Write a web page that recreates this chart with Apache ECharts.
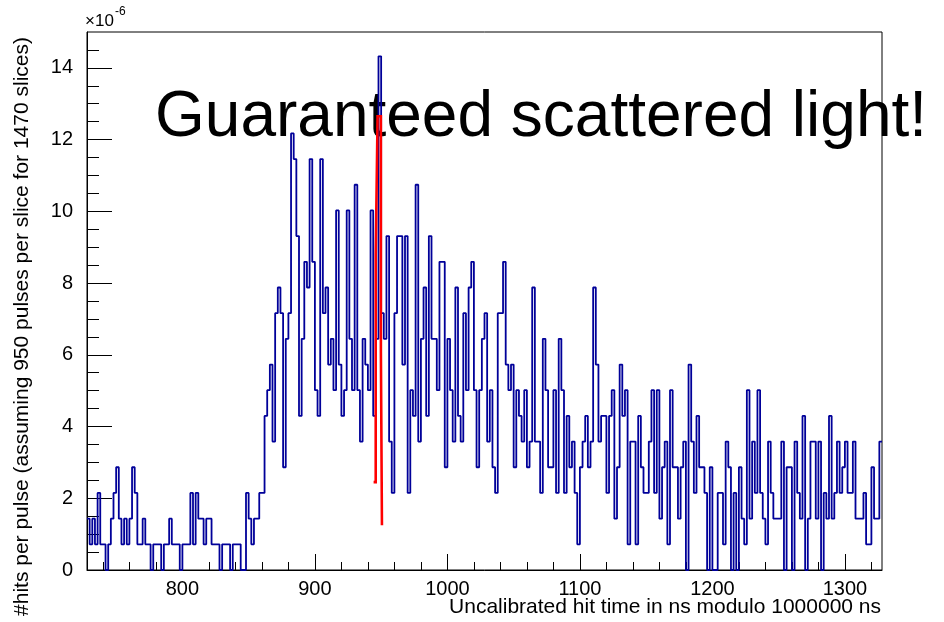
<!DOCTYPE html>
<html lang="en">

<head>
    <meta charset="UTF-8">
    <title>Hit time histogram</title>
    <script src="https://cdn.jsdelivr.net/npm/echarts@6/dist/echarts.min.js"></script>
    <style>
        html,
        body,
        #chart {
            width: 100%;
            height: 100%;
            margin: 0;
            padding: 0;
            background: #fff;
        }
    </style>
</head>

<body>
    <div id="chart"></div>
    <script>
        // histogram: 2 ns bins starting at 728 ns, counts per bin
        var binStart = 728;
        var binWidth = 2;
        // one hit = 1 / (950 pulses * 1470 slices), in units of 1e-6
        var hitUnit = 1e6 / (950 * 1470);

        var blueCounts = [
            2, 1, 2, 1, 3, 1, 1, 0, 1, 2, 3, 4, 2, 1, 2, 1, 2, 4, 3, 1,
            1, 2, 1, 1, 0, 1, 1, 1, 0, 1, 1, 2, 1, 1, 1, 0, 1, 1, 1, 3,
            1, 3, 2, 2, 1, 2, 2, 1, 1, 1, 0, 1, 1, 1, 0, 1, 1, 1, 0, 0,
            3, 2, 1, 2, 2, 3, 3, 6, 7, 8, 5, 10, 11, 10, 4, 9, 10, 17, 16, 13,
            6, 9, 12, 11, 16, 12, 7, 6, 16, 10, 11, 8, 9, 7, 14, 8, 6, 7, 14, 9,
            7, 15, 7, 5, 9, 8, 7, 14, 6, 9, 20, 10, 9, 13, 5, 3, 10, 13, 13, 8,
            13, 3, 7, 6, 15, 5, 9, 11, 6, 13, 9, 9, 7, 12, 12, 4, 9, 7, 5, 11,
            6, 5, 10, 7, 11, 12, 7, 4, 7, 9, 10, 5, 7, 4, 3, 10, 10, 12, 8, 7,
            8, 4, 7, 6, 5, 7, 4, 5, 11, 5, 5, 3, 9, 7, 4, 4, 7, 3, 9, 7,
            3, 6, 4, 5, 3, 1, 4, 5, 6, 4, 5, 11, 8, 5, 6, 6, 3, 6, 7, 2,
            4, 8, 6, 7, 1, 5, 5, 1, 6, 4, 3, 3, 5, 7, 3, 7, 2, 4, 5, 1,
            7, 4, 4, 2, 4, 5, 0, 8, 5, 3, 6, 4, 4, 3, 0, 4, 0, 0, 3, 3,
            1, 5, 4, 0, 3, 0, 4, 2, 1, 7, 2, 5, 3, 7, 3, 2, 1, 5, 3, 2,
            2, 2, 5, 0, 4, 4, 0, 5, 3, 2, 6, 0, 2, 5, 5, 2, 5, 0, 3, 2,
            6, 2, 3, 5, 3, 4, 5, 3, 3, 5, 2, 2, 2, 3, 1, 1, 4, 2, 2, 5
        ];

        // red histogram around 945-951 ns (bin edges and values in 1e-6)
        var redEdges = [944.3, 945.9, 947.3, 949.8, 950.6, 950.8];
        var redValues = [2.45, 8.8, 12.65, 6.1, 1.25];

        var xTickValues = [800, 900, 1000, 1100, 1200, 1300];
        var yTickValues = [0, 2, 4, 6, 8, 10, 12, 14];

        var xMin = 728, xMax = 1328, yMin = 0, yMax = 15;

        var xMinor = [];
        for (var v = 740; v < xMax; v += 20) {
            if (v % 100 !== 0) xMinor.push(v);
        }
        var yMinor = [];
        for (var w = 0.5; w < yMax; w += 0.5) {
            if (w % 2 !== 0) yMinor.push(w);
        }

        var blueData = blueCounts.map(function (c, i) {
            return [binStart + i * binWidth, c * hitUnit];
        });
        blueData.push([binStart + blueCounts.length * binWidth, blueCounts[blueCounts.length - 1] * hitUnit]);

        var redData = redValues.map(function (r, i) {
            return [redEdges[i], r];
        });
        redData.push([redEdges[redEdges.length - 1], redValues[redValues.length - 1]]);

        var font = 'Liberation Sans, Arial, sans-serif';

        function plain(val) {
            return String(val);
        }

        var chart = echarts.init(document.getElementById('chart'));
        chart.setOption({
            animation: false,
            backgroundColor: '#fff',
            grid: {
                left: 87,
                right: 62,
                top: 32,
                bottom: 52,
                show: true,
                borderColor: '#000',
                borderWidth: 1
            },
            xAxis: [{
                type: 'value',
                min: xMin,
                max: xMax,
                position: 'bottom',
                axisLine: { show: true, lineStyle: { color: '#000', width: 1 } },
                axisTick: {
                    show: true, inside: true, length: 16,
                    customValues: xTickValues,
                    lineStyle: { color: '#000', width: 1 }
                },
                axisLabel: {
                    customValues: xTickValues,
                    formatter: plain,
                    color: '#000', fontSize: 20, fontFamily: font, margin: 9
                },
                splitLine: { show: false }
            }, {
                type: 'value',
                min: xMin,
                max: xMax,
                position: 'bottom',
                axisLine: { show: false },
                axisTick: {
                    show: true, inside: true, length: 8,
                    customValues: xMinor,
                    lineStyle: { color: '#000', width: 1 }
                },
                axisLabel: { show: false },
                splitLine: { show: false }
            }],
            yAxis: [{
                type: 'value',
                min: yMin,
                max: yMax,
                position: 'left',
                axisLine: { show: true, lineStyle: { color: '#000', width: 1 } },
                axisTick: {
                    show: true, inside: true, length: 25,
                    customValues: yTickValues,
                    lineStyle: { color: '#000', width: 1 }
                },
                axisLabel: {
                    customValues: yTickValues,
                    formatter: plain,
                    color: '#000', fontSize: 20, fontFamily: font, margin: 14
                },
                splitLine: { show: false }
            }, {
                type: 'value',
                min: yMin,
                max: yMax,
                position: 'left',
                axisLine: { show: false },
                axisTick: {
                    show: true, inside: true, length: 12,
                    customValues: yMinor,
                    lineStyle: { color: '#000', width: 1 }
                },
                axisLabel: { show: false },
                splitLine: { show: false }
            }],
            graphic: [{
                type: 'text',
                z: 0,
                x: 155,
                y: 118,
                style: {
                    text: 'Guaranteed scattered light!',
                    fontSize: 64,
                    fontFamily: font,
                    fill: '#000',
                    textVerticalAlign: 'middle'
                }
            }, {
                type: 'text',
                x: 881,
                y: 607,
                style: {
                    text: 'Uncalibrated hit time in ns modulo 1000000 ns',
                    fontSize: 21,
                    fontFamily: font,
                    fill: '#000',
                    textAlign: 'right',
                    textVerticalAlign: 'middle'
                }
            }, {
                type: 'text',
                x: 22,
                y: 37,
                rotation: Math.PI / 2,
                style: {
                    text: '#hits per pulse (assuming 950 pulses per slice for 1470 slices)',
                    fontSize: 21,
                    fontFamily: font,
                    fill: '#000',
                    textAlign: 'right',
                    textVerticalAlign: 'middle'
                }
            }, {
                type: 'text',
                x: 85,
                y: 21,
                style: {
                    text: '\u00d710',
                    fontSize: 17,
                    fontFamily: font,
                    fill: '#000',
                    textVerticalAlign: 'middle'
                }
            }, {
                type: 'text',
                x: 115,
                y: 12,
                style: {
                    text: '-6',
                    fontSize: 12,
                    fontFamily: font,
                    fill: '#000',
                    textVerticalAlign: 'middle'
                }
            }],
            series: [{
                type: 'line',
                name: 'all hits',
                z: 5,
                xAxisIndex: 0,
                yAxisIndex: 0,
                step: 'end',
                symbol: 'none',
                data: blueData,
                lineStyle: { color: '#000099', width: 1.8 }
            }, {
                type: 'line',
                name: 'selected',
                z: 6,
                xAxisIndex: 0,
                yAxisIndex: 0,
                step: 'end',
                symbol: 'none',
                data: redData,
                lineStyle: { color: '#ff0000', width: 2.6, join: 'miter' }
            }]
        });
    </script>
</body>

</html>
